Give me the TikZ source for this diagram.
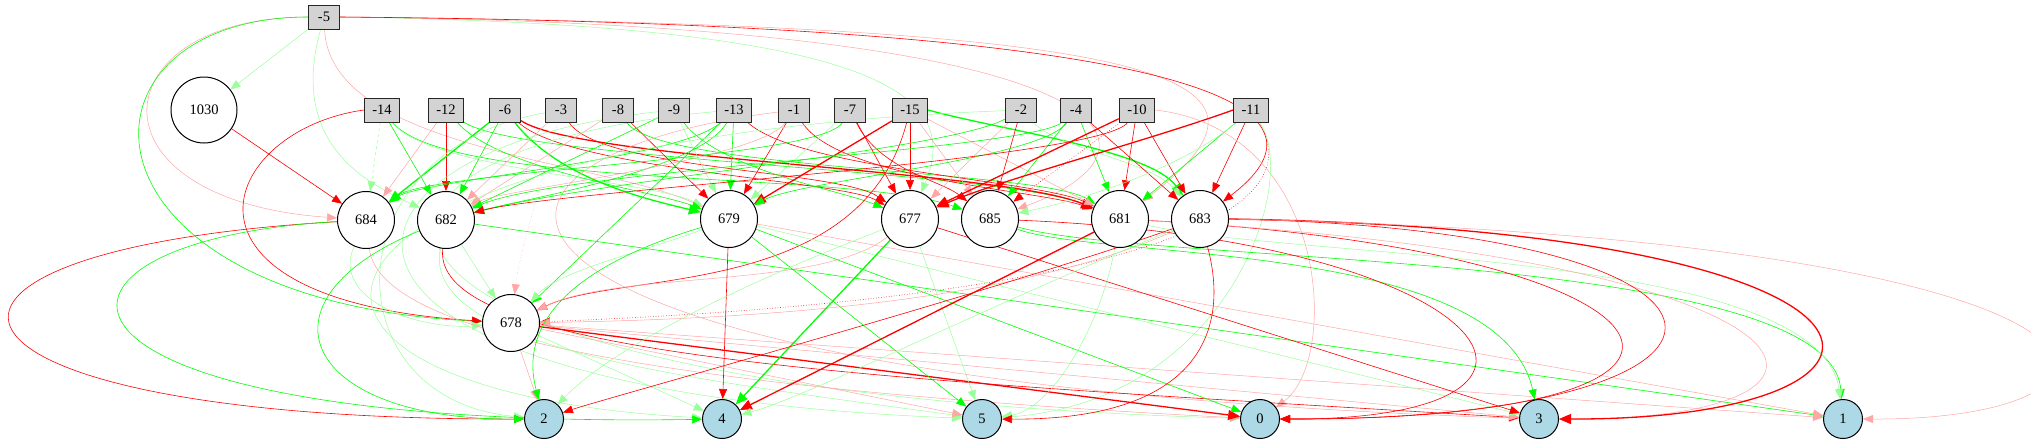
\documentclass[tikz,border=0pt]{standalone}
\usepackage{fontspec}
\setmainfont{Liberation Serif}
\usepackage{xcolor}
\definecolor{cPos}{HTML}{00FF00}
\definecolor{cNeg}{HTML}{FF0000}
\definecolor{cIn}{HTML}{D3D3D3}
\definecolor{cOut}{HTML}{ADD8E6}
\usepackage{tikz}
\usetikzlibrary{arrows.meta,backgrounds}
\tikzset{
  node-in/.style={draw=black!85,line width=1pt,fill=cIn,rectangle,
    minimum height=24pt,minimum width=31pt,inner xsep=8pt,inner ysep=0pt},
  node-hid/.style={draw=black,line width=1pt,fill=white,circle,
    minimum size=57pt,inner sep=0pt},
  node-out/.style={draw=black,line width=1pt,fill=cOut,circle,
    minimum size=39pt,inner sep=0pt},
  % weights: green = positive, red = negative, pale = small, dotted = disabled
  w-pos/.style={-{Triangle[length=10pt,width=8pt]},line width=0.6pt,draw=cPos},
  w-neg/.style={-{Triangle[length=10pt,width=8pt]},line width=0.6pt,draw=cNeg},
  w-pos-thick/.style={-{Triangle[length=12pt,width=10pt]},line width=1.3pt,draw=cPos},
  w-neg-thick/.style={-{Triangle[length=12pt,width=10pt]},line width=1.3pt,draw=cNeg},
  w-pos-lite/.style={-{Triangle[length=10pt,width=8pt]},line width=0.5pt,draw=cPos!40},
  w-neg-lite/.style={-{Triangle[length=10pt,width=8pt]},line width=0.5pt,draw=cNeg!35},
}

\begin{document}
\begin{tikzpicture}[x=1pt,y=-1pt,font=\fontsize{14.5}{16}\selectfont]
  \useasboundingbox (0,0) rectangle (2031,445);
  \node[node-in]  (i5)  at (324,17)  {-5};
  \node[node-in]  (i14) at (382,110) {-14};
  \node[node-in]  (i12) at (446,110) {-12};
  \node[node-in]  (i6)  at (505,110) {-6};
  \node[node-in]  (i3)  at (561,110) {-3};
  \node[node-in]  (i8)  at (618,110) {-8};
  \node[node-in]  (i9)  at (674,110) {-9};
  \node[node-in]  (i13) at (734,110) {-13};
  \node[node-in]  (i1)  at (794,110) {-1};
  \node[node-in]  (i7)  at (850,110) {-7};
  \node[node-in]  (i15) at (910,110) {-15};
  \node[node-in]  (i2)  at (1021,110) {-2};
  \node[node-in]  (i4)  at (1076,110) {-4};
  \node[node-in]  (i10) at (1137,110) {-10};
  \node[node-in]  (i11) at (1251,110) {-11};
  \node[node-hid,minimum size=66pt] (h1030) at (204,110) {1030};
  \node[node-hid] (h684) at (366,220) {684};
  \node[node-hid] (h682) at (446,220) {682};
  \node[node-hid] (h679) at (729,219) {679};
  \node[node-hid] (h677) at (910,219) {677};
  \node[node-hid] (h685) at (990,219) {685};
  \node[node-hid] (h681) at (1120,219) {681};
  \node[node-hid] (h683) at (1200,219) {683};
  \node[node-hid] (h678) at (511,323) {678};
  \node[node-out] (o2) at (544,419)  {2};
  \node[node-out] (o4) at (722,419)  {4};
  \node[node-out] (o5) at (982,419)  {5};
  \node[node-out] (o0) at (1260,419) {0};
  \node[node-out] (o3) at (1539,419) {3};
  \node[node-out] (o1) at (1843,419) {1};

  \begin{scope}[on background layer]
  % inputs to hidden
  \draw[w-pos-lite] (i5) -- (h1030);
  \draw[w-neg-lite] (i5.west) .. controls (100,17) and (80,200) .. (h684);
  \draw[w-pos] (i5.west) .. controls (60,17) and (60,300) .. (h678);
  \draw[w-pos-lite] (i5) .. controls (290,140) and (360,180) .. (h682);
  \draw[w-neg-lite] (i5) .. controls (330,150) and (600,160) .. (h679);
  \draw[w-pos-lite] (i5.east) .. controls (900,25) and (960,100) .. (h677);
  \draw[w-neg-lite] (i5.east) .. controls (1150,25) and (1180,150) .. (h685);
  \draw[w-neg-lite] (i5.east) .. controls (1200,25) and (1300,80) .. (h681);
  \draw[w-neg] (i5.east) .. controls (1280,25) and (1330,120) .. (h683);
  \draw[w-neg] (h1030) -- (h684);
  \draw[w-pos-lite,dashed] (i14) -- (h684);
  \draw[w-pos] (i14) -- (h682);
  \draw[w-neg] (i14.west) .. controls (220,130) and (150,300) .. (h678);
  \draw[w-pos] (i14) .. controls (450,190) and (850,170) .. (h685);
  \draw[w-pos-lite] (i14) .. controls (430,170) and (650,180) .. (h679);
  \draw[w-neg-lite] (i12) -- (h684);
  \draw[w-neg] (i12) -- (h682);
  \draw[w-pos] (i12) .. controls (500,170) and (650,190) .. (h679);
  \draw[w-pos] (i12) .. controls (520,160) and (1000,170) .. (h681);
  \draw[w-pos-thick] (i6) -- (h684);
  \draw[w-pos] (i6) -- (h682);
  \draw[w-pos-thick] (i6) .. controls (560,180) and (650,200) .. (h679);
  \draw[w-neg] (i6) .. controls (570,170) and (840,180) .. (h677);
  \draw[w-neg-thick] (i6) .. controls (580,160) and (1000,170) .. (h681);
  \draw[w-neg-lite] (i3) -- (h682);
  \draw[w-neg] (i3) .. controls (600,170) and (840,170) .. (h677);
  \draw[w-neg-lite,dotted] (i3) .. controls (540,190) and (520,250) .. (h678);
  \draw[w-neg] (i8) -- (h679);
  \draw[w-neg-lite] (i8) -- (h682);
  \draw[w-pos] (i8) .. controls (660,170) and (1040,170) .. (h681);
  \draw[w-pos-lite] (i9) -- (h679);
  \draw[w-pos] (i9) -- (h682);
  \draw[w-pos] (i9) .. controls (720,170) and (840,190) .. (h677);
  \draw[w-pos] (i13) -- (h679);
  \draw[w-pos] (i13) -- (h678);
  \draw[w-pos] (i13) .. controls (700,170) and (520,200) .. (h682);
  \draw[w-pos] (i13) .. controls (680,160) and (420,180) .. (h684);
  \draw[w-neg] (i13) .. controls (800,170) and (1040,180) .. (h681);
  \draw[w-neg] (i1) -- (h679);
  \draw[w-neg-lite] (i1) .. controls (760,160) and (500,190) .. (h682);
  \draw[w-neg] (i1) .. controls (840,180) and (1040,190) .. (h681);
  \draw[w-neg] (i7) -- (h677);
  \draw[w-pos-lite] (i7) -- (h679);
  \draw[w-neg] (i7) .. controls (880,170) and (940,180) .. (h685);
  \draw[w-pos] (i7) .. controls (820,160) and (430,170) .. (h684);
  \draw[w-neg-thick] (i15) -- (h679);
  \draw[w-neg] (i15) -- (h677);
  \draw[w-neg-lite] (i15) -- (h685);
  \draw[w-neg-lite] (i15) -- (h681);
  \draw[w-pos-thick] (i15.east) .. controls (1000,130) and (1150,150) .. (h683);
  \draw[w-neg] (i15) .. controls (860,300) and (620,270) .. (h678);
  \draw[w-neg] (i2) -- (h685);
  \draw[w-neg-lite] (i2) -- (h677);
  \draw[w-pos] (i2) .. controls (950,150) and (600,180) .. (h682);
  \draw[w-pos-lite] (i2) .. controls (1060,150) and (1150,160) .. (h683);
  \draw[w-pos] (i4) -- (h681);
  \draw[w-pos] (i4) -- (h685);
  \draw[w-neg] (i4) -- (h683);
  \draw[w-pos] (i4) .. controls (1040,160) and (800,180) .. (h679);
  \draw[w-pos] (i4) .. controls (1030,150) and (560,170) .. (h682);
  \draw[w-neg-thick] (i10) -- (h677);
  \draw[w-neg] (i10) -- (h681);
  \draw[w-neg] (i10) -- (h683);
  \draw[w-neg,dotted] (i10) -- (h685);
  \draw[w-neg] (i10) .. controls (1100,160) and (560,190) .. (h682);
  \draw[w-neg-thick] (i11.west) .. controls (1150,140) and (1000,180) .. (h677);
  \draw[w-pos] (i11) -- (h681);
  \draw[w-neg] (i11) -- (h683);
  \draw[w-pos-lite] (i11) .. controls (1180,170) and (1080,200) .. (h685);
  \draw[w-neg,dotted] (i11) .. controls (1320,220) and (1100,300) .. (h678);
  % inputs to outputs
  \draw[w-pos-lite] (i3) .. controls (330,150) and (330,400) .. (o2);
  \draw[w-pos-lite] (i9) .. controls (300,150) and (250,390) .. (o5);
  \draw[w-pos-lite] (i13) .. controls (280,150) and (280,390) .. (o0);
  \draw[w-neg-lite] (i1) .. controls (400,160) and (420,380) .. (o3);
  \draw[w-pos-lite] (i2) .. controls (250,140) and (200,390) .. (o4);
  \draw[w-neg-lite] (i10.east) .. controls (1330,130) and (1340,360) .. (o0);
  \draw[w-pos-lite] (i11) .. controls (1300,180) and (1230,400) .. (o5);
  % hidden to hidden
  \draw[w-pos-lite] (h682) -- (h678);
  \draw[w-pos-lite] (h684) .. controls (330,300) and (420,330) .. (h678);
  \draw[w-pos-lite] (h679) .. controls (650,250) and (560,270) .. (h678);
  \draw[w-neg-lite] (h677) .. controls (820,290) and (620,270) .. (h678);
  \draw[w-neg-lite] (h683) .. controls (1000,310) and (700,320) .. (h678);
  % hidden to outputs
  \draw[w-neg] (h684) .. controls (-150,250) and (-100,420) .. (o2);
  \draw[w-pos] (h684) .. controls (0,240) and (0,430) .. (o4);
  \draw[w-neg-lite] (h684) .. controls (380,340) and (700,390) .. (o0);
  \draw[w-pos] (h682) .. controls (250,300) and (300,420) .. (o2);
  \draw[w-pos] (h682) -- (o1);
  \draw[w-pos-lite] (h682) .. controls (420,350) and (700,380) .. (o5);
  \draw[w-neg] (h682) .. controls (430,360) and (900,380) .. (o3);
  \draw[w-neg-thick] (h678) -- (o0);
  \draw[w-neg-lite] (h678) -- (o2);
  \draw[w-pos-lite] (h678) -- (o4);
  \draw[w-neg-lite] (h678) -- (o5);
  \draw[w-neg-lite] (h678) -- (o3);
  \draw[w-neg-lite] (h678) -- (o1);
  \draw[w-neg] (h679) -- (o4);
  \draw[w-pos] (h679) -- (o5);
  \draw[w-pos] (h679) -- (o0);
  \draw[w-pos-lite] (h679) -- (o3);
  \draw[w-neg-lite] (h679) -- (o1);
  \draw[w-pos] (h679) .. controls (560,270) and (520,330) .. (o2);
  \draw[w-pos-thick] (h677) -- (o4);
  \draw[w-pos-lite] (h677) -- (o5);
  \draw[w-neg] (h677) -- (o3);
  \draw[w-pos-lite] (h677) .. controls (700,300) and (600,360) .. (o2);
  \draw[w-pos] (h685) .. controls (1100,260) and (1500,240) .. (o3);
  \draw[w-pos] (h685) .. controls (1150,265) and (1830,250) .. (o1);
  \draw[w-neg] (h685) .. controls (1500,240) and (1620,420) .. (o0.east);
  \draw[w-neg-thick] (h681) -- (o4);
  \draw[w-neg] (h681) .. controls (1700,250) and (1800,420) .. (o0.east);
  \draw[w-pos-lite] (h681) .. controls (1300,260) and (1820,250) .. (o1);
  \draw[w-neg-lite] (h681) .. controls (1850,260) and (1900,420) .. (o3.east);
  \draw[w-pos-lite] (h681) .. controls (1100,330) and (1050,410) .. (o5);
  \draw[w-neg-thick] (h683.east) .. controls (1950,230) and (1950,420) .. (o3.east);
  \draw[w-neg] (h683.east) .. controls (1800,230) and (1800,420) .. (o0.east);
  \draw[w-neg-lite] (h683.east) .. controls (2180,240) and (2180,420) .. (o1.east);
  \draw[w-neg] (h683) .. controls (1230,330) and (1200,420) .. (o5);
  \draw[w-neg] (h683) .. controls (1000,290) and (600,400) .. (o2);
  \draw[w-pos-lite] (h683) .. controls (1000,300) and (800,400) .. (o4);
  \end{scope}
\end{tikzpicture}
\end{document}
